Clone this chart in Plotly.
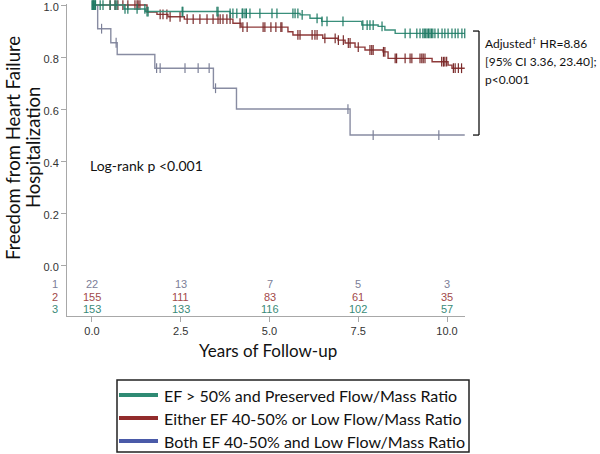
import numpy as np
import plotly.graph_objects as go

# ---------------- data ----------------
group_names = ["EF > 50% and Preserved Flow/Mass Ratio",
               "Either EF 40-50% or Low Flow/Mass Ratio",
               "Both EF 40-50% and Low Flow/Mass Ratio"]

# Group 1: EF > 50% and preserved flow/mass (teal)
times_pres = [0, 0.9, 1.5, 3.89, 5.86, 6.14, 6.47, 7.6, 8.06, 8.25, 8.54, 10.5]
surv_pres = [1.0, 0.985, 0.975, 0.968, 0.962, 0.949, 0.937, 0.923, 0.918, 0.904, 0.891, 0.891]
cens_pres = [0.0, 0.02, 0.04, 0.06, 0.08, 0.1, 0.23, 0.31, 0.51, 0.65, 0.70, 0.93, 1.01,
             1.27, 1.49, 1.55, 1.58, 2.54, 2.56, 3.52, 3.55, 3.89, 3.97, 4.08, 4.23, 4.25,
             4.31, 4.35, 4.45, 4.73, 5.07, 5.21, 5.66, 5.72, 5.80, 5.92, 6.34, 6.48, 6.62,
             7.07, 7.63, 7.75, 7.83, 7.92, 8.17, 8.82, 8.96, 9.15, 9.24, 9.32, 9.36, 9.40,
             9.44, 9.48, 9.52, 9.56, 9.60, 9.66, 9.75, 9.86, 9.94, 10.03, 10.14, 10.23,
             10.31, 10.42, 10.5]

# Group 2: either EF 40-50% or low flow/mass (red)
times_either = [0, 1.55, 1.83, 2.14, 2.6, 3.97, 4.2, 5.52, 5.66, 6.50, 6.93, 7.13, 7.41,
                7.69, 8.20, 8.34, 9.58, 10.03, 10.14, 10.5]
surv_either = [1.0, 0.973, 0.964, 0.955, 0.946, 0.93, 0.915, 0.897, 0.885, 0.872, 0.865,
               0.854, 0.838, 0.827, 0.82, 0.795, 0.782, 0.769, 0.757, 0.757]
cens_either = [0.51, 0.65, 0.73, 0.87, 1.01, 1.21, 1.27, 1.30, 1.35, 1.92, 2.0, 2.11,
               2.20, 2.48, 2.68, 2.85, 3.04, 3.24, 3.41, 3.55, 3.61, 3.69, 3.80, 3.89,
               4.17, 4.25, 4.37, 4.82, 4.87, 5.04, 5.18, 5.32, 5.35, 5.80, 5.86, 6.20,
               6.28, 6.34, 6.56, 6.85, 6.94, 7.08, 7.22, 7.27, 7.50, 7.83, 7.88, 7.92,
               8.21, 8.25, 8.54, 8.58, 8.82, 8.96, 9.01, 9.24, 9.29, 9.33, 9.38, 9.85,
               9.90, 9.94, 9.99, 10.18, 10.23, 10.32, 10.41]

# Group 3: both EF 40-50% and low flow/mass (gray-blue)
times_both = [0, 0.16, 0.53, 0.71, 1.77, 3.42, 4.07, 7.27, 10.5]
surv_both = [1.0, 0.909, 0.855, 0.81, 0.757, 0.68, 0.60, 0.50, 0.50]
cens_both = [0.27, 0.68, 1.82, 1.92, 2.62, 2.99, 3.30, 3.48, 7.21, 7.92, 9.77]

# numbers at risk
risk_times = [0, 2.5, 5, 7.5, 10]
risk_both = [22, 13, 7, 5, 3]
risk_either = [155, 111, 83, 61, 35]
risk_pres = [153, 133, 116, 102, 57]

x_tick_vals = [0, 2.5, 5, 7.5, 10]
x_tick_text = ["0.0", "2.5", "5.0", "7.5", "10.0"]
y_tick_vals = [0, 0.2, 0.4, 0.6, 0.8, 1.0]
y_tick_text = ["0.0", "0.2", "0.4", "0.6", "0.8", "1.0"]

# ---------------- styling ----------------
TEAL, RED, GRAY = "#3a8f7b", "#8e3a3a", "#888ca2"
TEAL_D, RED_D, GRAY_D = "#1f7a64", "#7a2a2a", "#7c8098"
LEG_COLORS = ["#2e8a73", "#922b2b", "#4a5aa8"]
TXT_FONT = "Lato"
NUM_FONT = "Liberation Sans"

W, H = 600, 454
ML, MR, MT, MB = 67, 135, 4, 138
PW, PH = W - ML - MR, H - MT - MB
Y_LO = -0.196
Y_HI = Y_LO + PH / 260.0


def px_x(px):
    return (px - ML) / PW


def px_y(py):
    return (H - MB - py) / PH


def step_at(times, surv, t):
    idx = np.searchsorted(np.array(times), np.array(t), side="right") - 1
    return list(np.array(surv)[np.clip(idx, 0, len(surv) - 1)])


def note(x, y, text, size, color="#111", font=TXT_FONT, xanchor="center", xref="paper",
         yref="paper", angle=0):
    fig.add_annotation(x=x, y=y, xref=xref, yref=yref, text=text, showarrow=False,
                       xanchor=xanchor, yanchor="middle", textangle=angle,
                       font=dict(family=font, size=size, color=color))


fig = go.Figure()

curves = [(times_both, surv_both, cens_both, GRAY, GRAY_D),
          (times_either, surv_either, cens_either, RED, RED_D),
          (times_pres, surv_pres, cens_pres, TEAL, TEAL_D)]
for times, surv, cens, col, dcol in curves:
    fig.add_trace(go.Scatter(x=times, y=surv, mode="lines", line=dict(color=col, width=1.4, shape="hv"),
                             showlegend=False, hoverinfo="skip", cliponaxis=False))
    fig.add_trace(go.Scatter(x=cens, y=step_at(times, surv, cens), mode="markers",
                             marker=dict(symbol="line-ns", size=7, line=dict(color=dcol, width=1.2)),
                             showlegend=False, hoverinfo="skip", cliponaxis=False))

# at-risk numbers
risk_rows = [(risk_both, GRAY_D, -0.073, "1"), (risk_either, "#a24a4a", -0.123, "2"),
             (risk_pres, "#3a8a78", -0.169, "3")]
for vals, col, yv, lab in risk_rows:
    for t, v in zip(risk_times, vals):
        note(t, yv, str(v), 11, col, NUM_FONT, xref="x", yref="y")
    note(px_x(55), yv, lab, 11, col, NUM_FONT, yref="y")

# texts
note(px_x(88), px_y(166), "Log-rank p <0.001", 14, xanchor="left")
for txt, py in [("Adjusted<sup>†</sup> HR=8.86", 43), ("[95% CI 3.36, 23.40];", 61),
                ("p<0.001", 79)]:
    note(px_x(483), px_y(py), txt, 12, xanchor="left")

note(px_x(13), px_y(148), "Freedom from Heart Failure", 18.5, angle=-90)
note(px_x(33), px_y(148), "Hospitalization", 18.5, angle=-90)
note(px_x(268), px_y(350), "Years of Follow-up", 17)

# bracket
fig.add_shape(type="line", xref="paper", yref="y", x0=px_x(479), x1=px_x(479), y0=0.9, y1=0.5,
              line=dict(color="#111", width=1.3))
for yv in (0.9, 0.5):
    fig.add_shape(type="line", xref="paper", yref="y", x0=px_x(473), x1=px_x(479), y0=yv, y1=yv,
                  line=dict(color="#111", width=1.3))

# legend box (drawn below the plot area)
fig.add_shape(type="rect", xref="paper", yref="paper", x0=px_x(117), x1=px_x(469),
              y0=px_y(452), y1=px_y(380), line=dict(color="#222", width=1.5), fillcolor="white")
for name, col, py in zip(group_names, LEG_COLORS, [395, 418, 441]):
    fig.add_shape(type="line", xref="paper", yref="paper", x0=px_x(119), x1=px_x(158),
                  y0=px_y(py), y1=px_y(py), line=dict(color=col, width=4))
    note(px_x(162), px_y(py), name, 16, xanchor="left")

fig.update_xaxes(range=[-0.704, 10.507], tickvals=x_tick_vals, ticktext=x_tick_text,
                 showline=True, linecolor="#a8a8a8", linewidth=1, ticks="outside", ticklen=5,
                 tickcolor="#a8a8a8", showgrid=False, zeroline=False, automargin=False,
                 ticklabeloverflow="allow",
                 tickfont=dict(family=NUM_FONT, size=11, color="#333"))
fig.update_yaxes(range=[Y_LO, Y_HI], tickvals=y_tick_vals, ticktext=y_tick_text,
                 showline=True, linecolor="#a8a8a8", linewidth=1, ticks="outside", ticklen=5,
                 tickcolor="#a8a8a8", showgrid=False, zeroline=False, automargin=False,
                 ticklabeloverflow="allow", ticklabelshift=2,
                 tickfont=dict(family=NUM_FONT, size=11, color="#333"))

fig.update_layout(
    width=W, height=H, margin=dict(l=ML, r=MR, t=MT, b=MB, autoexpand=False),
    plot_bgcolor="white", paper_bgcolor="white", showlegend=False,
)

fig.write_html("out.html", config={"displayModeBar": False},
               post_script="document.body.style.margin='0';")
